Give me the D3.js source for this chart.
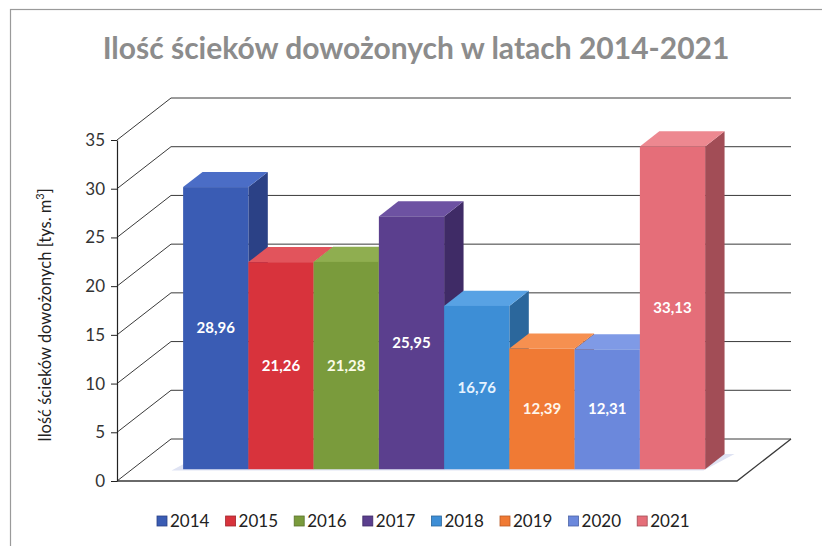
<!DOCTYPE html>
<html>
<head>
<meta charset="utf-8">
<script src="https://cdn.jsdelivr.net/npm/d3@7"></script>
<style>
  body { margin: 0; background: #fff; }
  svg { display: block; }
  text { font-family: Lato, "Open Sans", sans-serif; }
</style>
</head>
<body>
<div id="chart"></div>
<script>
const years = ['2014', '2015', '2016', '2017', '2018', '2019', '2020', '2021'];
const values = [28.96, 21.26, 21.28, 25.95, 16.76, 12.39, 12.31, 33.13];
const yTicks = [0, 5, 10, 15, 20, 25, 30, 35];

// face colours per series: front, side, top
const frontColors = ['#3a5cb4', '#d8333c', '#7a9b3c', '#5b3f8e', '#3d8ed6', '#f07a34', '#6b88dc', '#e56e79'];
const sideColors  = ['#2b4186', '#a1262e', '#5a722c', '#3f2b66', '#2b679c', '#b85a26', '#4c63a6', '#a24d56'];
const topColors   = ['#4b6dc6', '#e2545c', '#8fae50', '#6d52a2', '#58a2e4', '#f69050', '#7f9ae6', '#ed8890'];
const labelColors = ['#ffffff', '#ffffff', '#fbfbe6', '#ffffff', '#e6f3ff', '#fff6ea', '#ffffff', '#ffffff'];

const width = 822, height = 546;
const base = 481, xFront0 = 117, xFront1 = 737;
const DX = 54, DY = 42;          // depth offset of the back wall
const d0 = 0.28, d1 = 0.64;      // bar depth (fraction of floor depth)

const svg = d3.select('#chart').append('svg')
  .attr('width', width).attr('height', height);

svg.append('rect').attr('width', width).attr('height', height).attr('fill', '#fff');

// outer chart frame
svg.append('rect')
  .attr('x', 10.5).attr('y', 9.5).attr('width', 840).attr('height', 580)
  .attr('fill', 'none').attr('stroke', '#9a9a9a').attr('stroke-width', 1.2);

svg.append('text')
  .attr('x', 416).attr('y', 59)
  .attr('text-anchor', 'middle')
  .attr('fill', '#8c8c8c')
  .style('font-size', '30px').style('font-weight', 'bold')
  .text('Ilość ścieków dowożonych w latach 2014-2021');

const y = d3.scaleLinear().domain([0, 35]).range([base, base - 341]);
const x = d3.scaleBand().domain(years).range([168, 690]);

const P = (px, v, d) => [px + d * DX, y(v) - d * DY];
const pts = arr => arr.map(p => p.join(',')).join(' ');

// floor
svg.append('polygon')
  .attr('points', pts([P(xFront0, 0, 0), P(xFront1, 0, 0), P(xFront1, 0, 1), P(xFront0, 0, 1)]))
  .attr('fill', '#fff');

// gridlines: diagonal on side wall + horizontal on back wall
const grid = svg.append('g').attr('stroke', '#3a3a3a').attr('stroke-width', 1).attr('fill', 'none');
yTicks.forEach(t => {
  grid.append('polyline')
    .attr('points', pts([P(xFront0, t, 0), P(xFront0, t, 1), P(xFront1, t, 1)]));
});
// floor front and right edges
grid.append('polyline')
  .attr('points', pts([P(xFront0, 0, 0), P(xFront1, 0, 0), P(xFront1, 0, 1)]))
  .attr('stroke-width', 1.3);

// light shadow under the bars
svg.append('polygon')
  .attr('points', pts([P(x(years[0]) - 10, 0, d0 - 0.03), P(x(years[7]) + x.bandwidth(), 0, d0 - 0.03),
                       P(x(years[7]) + x.bandwidth() + 10, 0, d1), P(x(years[0]), 0, d1)]))
  .attr('fill', '#dfe3f3');

// bars, painted left to right
const bw = x.bandwidth();
const bars = svg.append('g');
years.forEach((yr, i) => {
  const v = values[i];
  const xl = x(yr), xr = xl + bw;
  const g = bars.append('g');
  g.append('polygon')
    .attr('points', pts([P(xr, v, d0), P(xr, v, d1), P(xr, 0, d1), P(xr, 0, d0)]))
    .attr('fill', sideColors[i]);
  g.append('polygon')
    .attr('points', pts([P(xl, v, d0), P(xr, v, d0), P(xr, v, d1), P(xl, v, d1)]))
    .attr('fill', topColors[i]);
  const [fx, fy] = P(xl, v, d0);
  const [, fb] = P(xl, 0, d0);
  g.append('rect')
    .attr('x', fx).attr('y', fy).attr('width', bw).attr('height', fb - fy)
    .attr('fill', frontColors[i]);
});

// data labels
const fmt = d3.formatLocale({ decimal: ',', thousands: ' ', grouping: [3], currency: ['', ''] }).format('.2f');
years.forEach((yr, i) => {
  const v = values[i];
  const [cx, cy] = P(x(yr) + bw / 2, v / 2, d0);
  svg.append('text')
    .attr('x', cx).attr('y', cy + 5)
    .attr('text-anchor', 'middle')
    .attr('fill', labelColors[i])
    .style('font-size', '15px').style('font-weight', 'bold')
    .text(fmt(v));
});

// y axis
const axis = svg.append('g')
  .attr('transform', `translate(${xFront0},0)`)
  .call(d3.axisLeft(y).tickValues(yTicks).tickSize(6).tickSizeOuter(0).tickPadding(6));
axis.select('.domain').attr('stroke', '#222').attr('stroke-width', 1.2);
axis.selectAll('.tick line').attr('stroke', '#222');
axis.selectAll('.tick text')
  .attr('fill', '#333')
  .style('font-size', '17px')
  .style('font-family', 'Lato, "Open Sans", sans-serif');

// y axis title
const yt = svg.append('text')
  .attr('transform', 'translate(51,315) rotate(-90)')
  .attr('text-anchor', 'middle')
  .attr('fill', '#222')
  .style('font-size', '16.5px');
yt.append('tspan').text('Ilość ścieków dowożonych [tys. m');
yt.append('tspan').attr('dy', -7).style('font-size', '11px').text('3');
yt.append('tspan').attr('dy', 7).text(']');

// legend
const lx = d3.scaleBand().domain(years).range([157, 157 + 8 * 68.6]);
const legend = svg.append('g').attr('transform', 'translate(0,521)');
years.forEach((yr, i) => {
  const item = legend.append('g').attr('transform', `translate(${lx(yr)},0)`);
  item.append('rect')
    .attr('x', 0).attr('y', -5).attr('width', 10).attr('height', 10)
    .attr('fill', frontColors[i]).attr('stroke', sideColors[i]).attr('stroke-width', 0.8);
  item.append('text')
    .attr('x', 13).attr('y', 6)
    .attr('fill', '#222')
    .style('font-size', '17px')
    .text(yr);
});
</script>
</body>
</html>
